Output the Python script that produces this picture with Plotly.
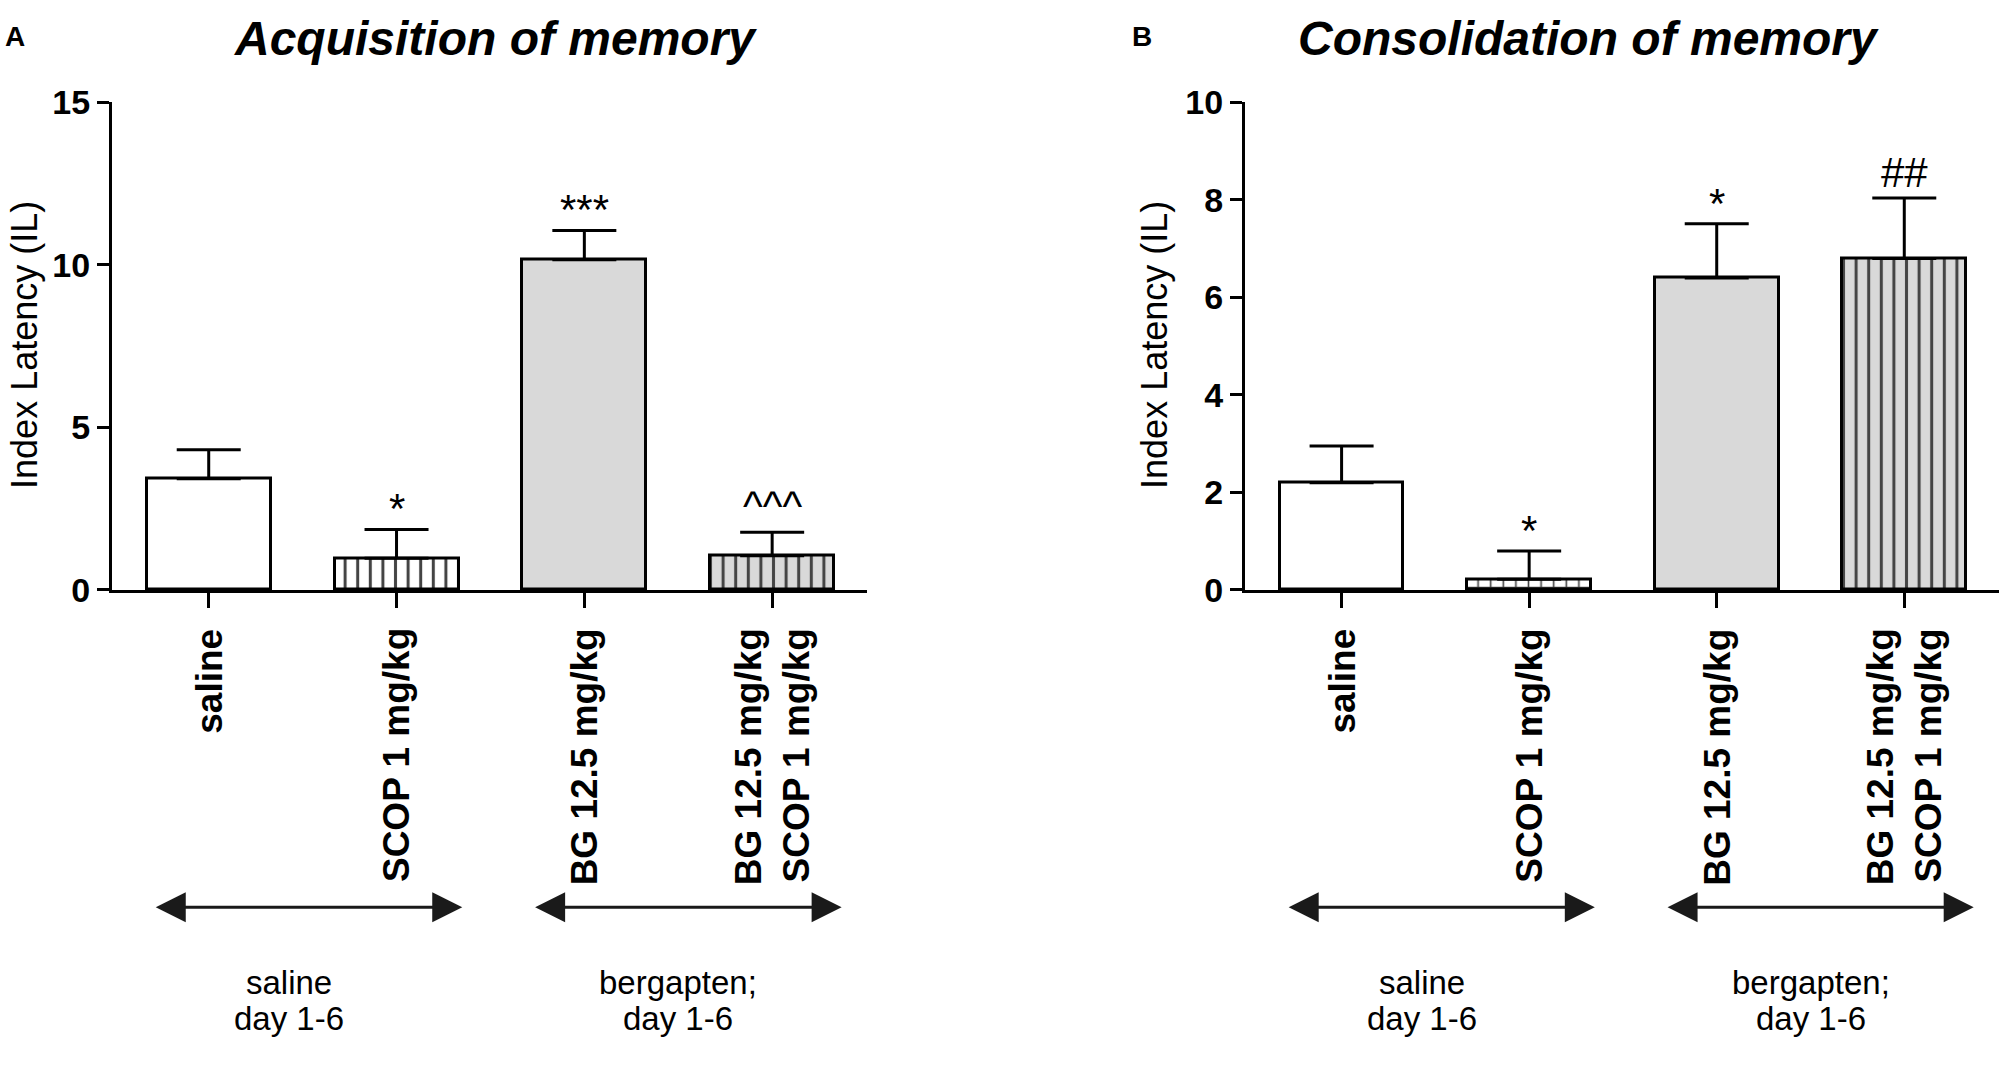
import plotly.graph_objects as go

# ---------------- data ----------------
categories = ["saline", "SCOP 1 mg/kg", "BG 12.5 mg/kg", "BG 12.5 mg/kg<br>SCOP 1 mg/kg"]
acq_mean = [3.42, 0.97, 10.16, 1.05]
acq_sem = [0.89, 0.89, 0.90, 0.72]
acq_sig = ["", "*", "***", "^^^"]
cons_mean = [2.20, 0.22, 6.40, 6.80]
cons_sem = [0.75, 0.58, 1.11, 1.24]
cons_sig = ["", "*", "*", "##"]
acq_yticks = [0, 5, 10, 15]
cons_yticks = [0, 2, 4, 6, 8, 10]
titles = ["Acquisition of memory", "Consolidation of memory"]
panel_letters = ["A", "B"]
y_title = "Index Latency (IL)"
group_labels = [["saline", "day 1-6"], ["bergapten;", "day 1-6"]]
group_spans = [(-0.29, 1.35), (1.73, 3.37)]
group_label_pos = [0.43, 2.5]

# ---------------- style ----------------
W, H = 2000, 1065
FONT = "Liberation Sans, Arial, sans-serif"
GRAY = "#d9d9d9"
fills = ["white", "white", GRAY, GRAY]
patterns_acq = ["", "|", "", "|"]
patterns_cons = ["", "+", "", "|"]
sig_shift = {"*": -5, "#": 0, "^": 0}


def fx(p):
    return p / W


def fy(p):
    return 1 - p / H


xs = list(range(len(categories)))

fig = go.Figure()


def add_panel(means, sems, patterns, xa, ya):
    fig.add_trace(go.Bar(
        x=xs, y=means, width=0.66,
        xaxis=xa, yaxis=ya,
        marker=dict(
            color=fills,
            line=dict(color="black", width=3),
            pattern=dict(shape=patterns, fgcolor="black", bgcolor=fills,
                         size=12.6, solidity=0.24, fgopacity=1),
        ),
        error_y=dict(type="data", array=sems, arrayminus=[0] * len(sems),
                     symmetric=False, color="black", thickness=3, width=32),
        showlegend=False,
        hoverinfo="skip",
    ))


add_panel(acq_mean, acq_sem, patterns_acq, "x", "y")
add_panel(cons_mean, cons_sem, patterns_cons, "x2", "y2")

ydom = [fy(592), fy(86.5)]
xcommon = dict(range=[-0.515, 3.505], tickvals=xs, showticklabels=False,
               ticks="outside", ticklen=15, tickwidth=3, tickcolor="black",
               showline=True, linewidth=3, linecolor="black",
               showgrid=False, zeroline=False, fixedrange=True)
ycommon = dict(ticks="outside", ticklen=12, tickwidth=3, tickcolor="black",
               showline=True, linewidth=3, linecolor="black",
               showgrid=False, zeroline=False, fixedrange=True,
               tickfont=dict(family=FONT, size=34, color="black", weight="bold"),
               domain=ydom)

fig.update_layout(
    width=W, height=H,
    margin=dict(l=0, r=0, t=0, b=0),
    paper_bgcolor="white", plot_bgcolor="white",
    xaxis=dict(domain=[fx(112), fx(867)], anchor="y", **xcommon),
    yaxis=dict(range=[0, 15], tickvals=acq_yticks, anchor="x", **ycommon),
    xaxis2=dict(domain=[fx(1245), fx(1999)], anchor="y2", **xcommon),
    yaxis2=dict(range=[0, 10], tickvals=cons_yticks, anchor="x2", **ycommon),
    bargap=0,
)

ann = []
panels = [("x", "y", acq_mean, acq_sem, acq_sig),
          ("x2", "y2", cons_mean, cons_sem, cons_sig)]
title_x = [495, 1588]
letter_x = [15, 1142]
ytitle_x = [25, 1155]

for p, (xa, ya, means, sems, sigs) in enumerate(panels):
    # significance marks above the error bars
    for i, s in enumerate(sigs):
        if s:
            ann.append(dict(x=i, y=means[i] + sems[i], xref=xa, yref=ya,
                            text=s, showarrow=False, yanchor="bottom",
                            yshift=sig_shift[s[0]],
                            font=dict(family=FONT, size=42, color="black")))
    # rotated category labels
    for i, c in enumerate(categories):
        ann.append(dict(x=i, y=fy(630), xref=xa, yref="paper", text=c,
                        showarrow=False, textangle=-90, xanchor="center",
                        yanchor="top", align="right",
                        font=dict(family=FONT, size=37, color="black",
                                  weight="bold")))
    # treatment arrows and labels
    for g, (a, b) in enumerate(group_spans):
        ann.append(dict(x=b, y=fy(921), xref=xa, yref="paper",
                        ax=a, ay=0, axref=xa, ayref="pixel", text="",
                        showarrow=True, arrowside="end+start",
                        arrowhead=2, startarrowhead=2,
                        arrowsize=2.0, startarrowsize=2.0,
                        arrowwidth=3, arrowcolor="#1a1a1a",
                        standoff=0, startstandoff=0))
        for li, line in enumerate(group_labels[g]):
            ann.append(dict(x=group_label_pos[g], y=fy(999 + 38 * li),
                            xref=xa, yref="paper", text=line,
                            showarrow=False, xanchor="center",
                            yanchor="middle",
                            font=dict(family=FONT, size=33, color="black")))
    # panel title, letter and y-axis title
    ann.append(dict(x=fx(title_x[p]), y=fy(20), xref="paper", yref="paper",
                    text=titles[p], showarrow=False, xanchor="center",
                    yanchor="middle",
                    font=dict(family=FONT, size=48, color="black",
                              weight="bold", style="italic")))
    ann.append(dict(x=fx(letter_x[p]), y=fy(18), xref="paper", yref="paper",
                    text=panel_letters[p], showarrow=False, xanchor="center",
                    yanchor="middle",
                    font=dict(family=FONT, size=28, color="black",
                              weight="bold")))
    ann.append(dict(x=fx(ytitle_x[p]), y=fy(338), xref="paper", yref="paper",
                    text=y_title, showarrow=False, textangle=-90,
                    xanchor="center", yanchor="middle",
                    font=dict(family=FONT, size=36, color="black")))

fig.update_layout(annotations=ann)
fig.write_html(
    "out.html",
    config={"displayModeBar": False},
    post_script="document.body.style.margin='0';document.body.style.padding='0';"
                "document.documentElement.style.overflow='hidden';",
)
